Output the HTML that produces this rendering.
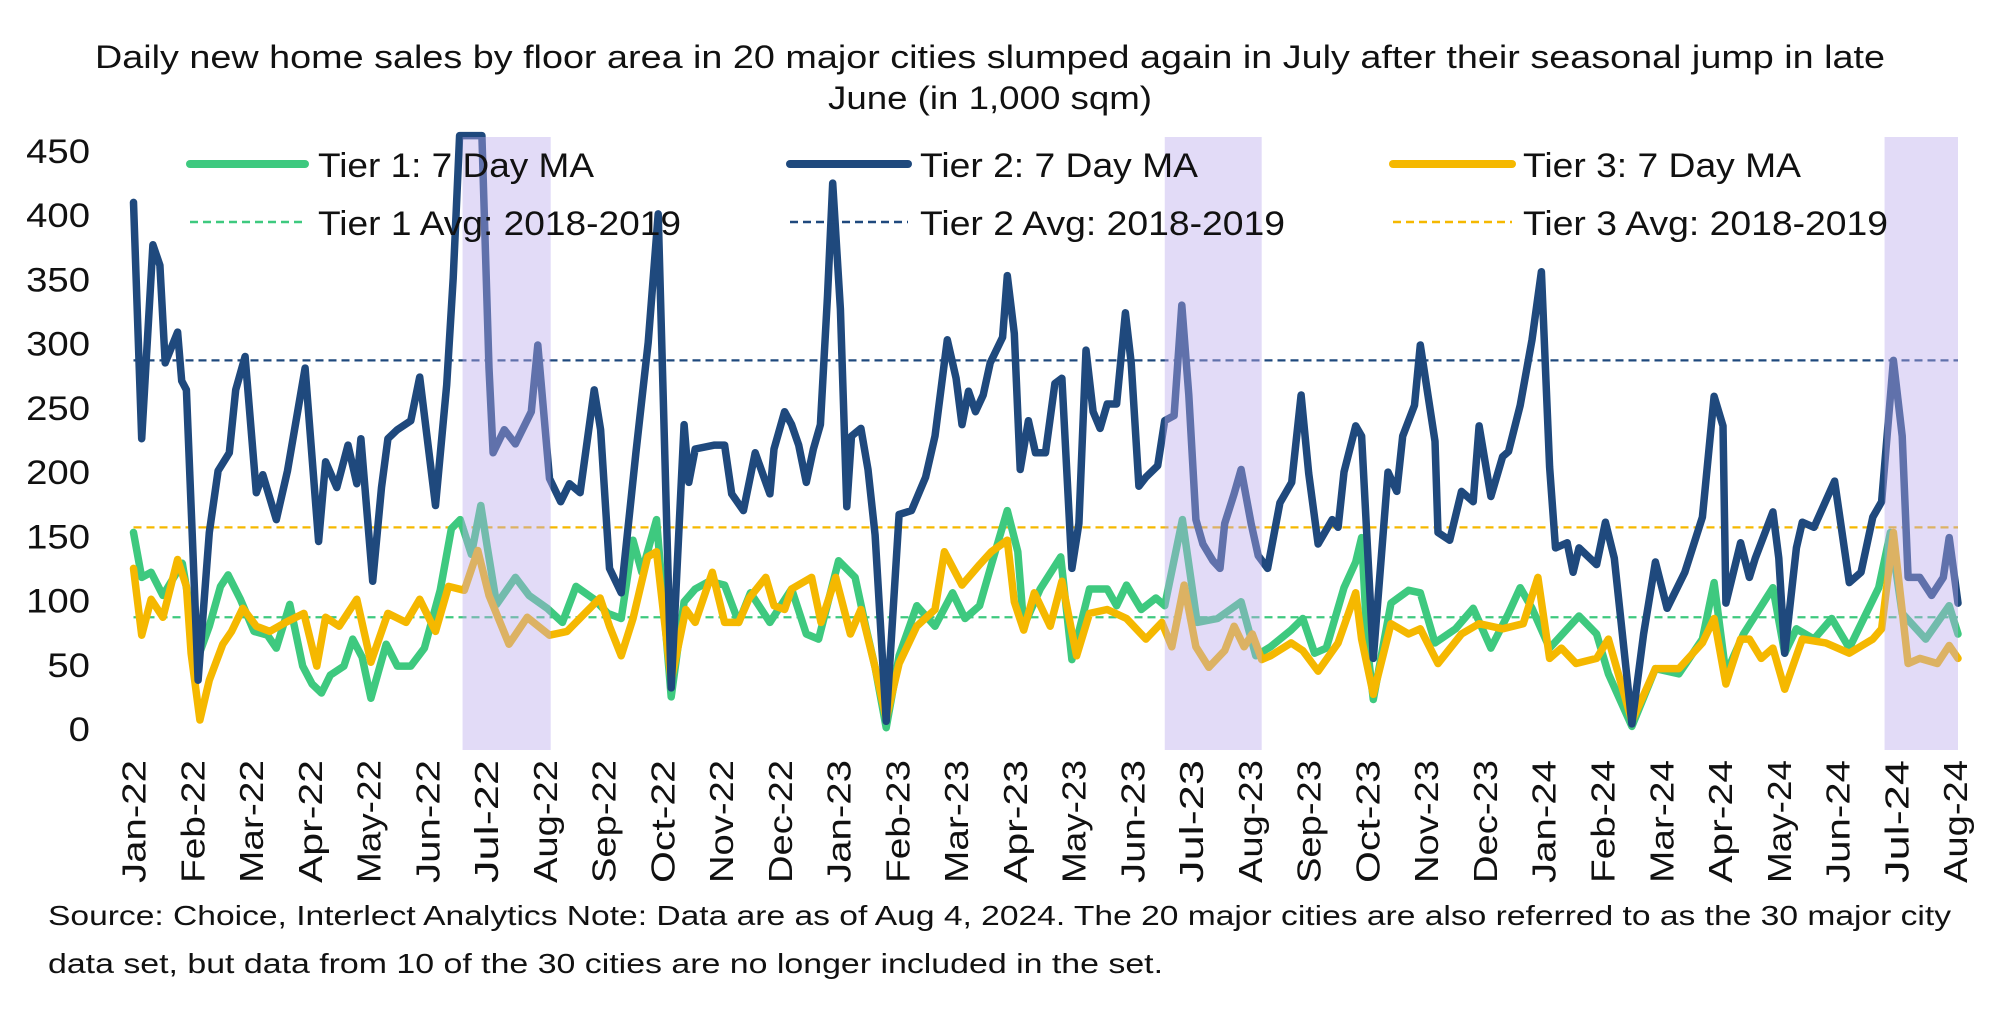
<!DOCTYPE html>
<html><head><meta charset="utf-8"><style>
html,body{margin:0;padding:0;background:#fff;}
svg{display:block;font-family:"Liberation Sans",sans-serif;}
</style></head><body>
<svg id="chart" width="1993" height="1009" viewBox="0 0 1993 1009" xmlns="http://www.w3.org/2000/svg">
<rect width="1993" height="1009" fill="#fff"/>
<g id="titleg" font-size="32" fill="#111" text-anchor="middle">
<text x="990" y="68" textLength="1790" lengthAdjust="spacingAndGlyphs">Daily new home sales by floor area in 20 major cities slumped again in July after their seasonal jump in late</text>
<text x="990" y="109" textLength="324" lengthAdjust="spacingAndGlyphs">June (in 1,000 sqm)</text>
</g>
<g id="grid"></g>
<g id="series"></g>
<g id="shade"></g>
<g id="yaxis"></g>
<g id="xaxis"></g>
<g id="legend" font-size="34" fill="#111">
<line x1="190" y1="164" x2="305" y2="164" stroke="#3ec97f" stroke-width="8" stroke-linecap="round"/>
<text x="318" y="177" textLength="276" lengthAdjust="spacingAndGlyphs">Tier 1: 7 Day MA</text>
<line x1="790" y1="164" x2="908" y2="164" stroke="#1f497d" stroke-width="8" stroke-linecap="round"/>
<text x="920" y="177" textLength="278" lengthAdjust="spacingAndGlyphs">Tier 2: 7 Day MA</text>
<line x1="1393" y1="164" x2="1512" y2="164" stroke="#f5b800" stroke-width="8" stroke-linecap="round"/>
<text x="1523" y="177" textLength="278" lengthAdjust="spacingAndGlyphs">Tier 3: 7 Day MA</text>
<line x1="190" y1="222" x2="305" y2="222" stroke="#3ec97f" stroke-width="2.5" stroke-dasharray="8 5"/>
<text x="318" y="235" textLength="363" lengthAdjust="spacingAndGlyphs">Tier 1 Avg: 2018-2019</text>
<line x1="790" y1="222" x2="908" y2="222" stroke="#1f497d" stroke-width="2.5" stroke-dasharray="8 5"/>
<text x="920" y="235" textLength="365" lengthAdjust="spacingAndGlyphs">Tier 2 Avg: 2018-2019</text>
<line x1="1393" y1="222" x2="1512" y2="222" stroke="#f5b800" stroke-width="2.5" stroke-dasharray="8 5"/>
<text x="1523" y="235" textLength="365" lengthAdjust="spacingAndGlyphs">Tier 3 Avg: 2018-2019</text>
</g>
<g id="source" font-size="28" fill="#111">
<text x="48" y="925" textLength="1903" lengthAdjust="spacingAndGlyphs">Source: Choice, Interlect Analytics   Note: Data are as of Aug 4, 2024. The 20 major cities are also referred to as the 30 major city</text>
<text x="48" y="973" textLength="1115" lengthAdjust="spacingAndGlyphs">data set, but data from 10 of the 30 cities are no longer included in the set.</text>
</g>
</svg>
<script>
const monthLabels = ["Jan-22","Feb-22","Mar-22","Apr-22","May-22","Jun-22","Jul-22","Aug-22","Sep-22","Oct-22","Nov-22","Dec-22","Jan-23","Feb-23","Mar-23","Apr-23","May-23","Jun-23","Jul-23","Aug-23","Sep-23","Oct-23","Nov-23","Dec-23","Jan-24","Feb-24","Mar-24","Apr-24","May-24","Jun-24","Jul-24","Aug-24"];
const yTicks = [0,50,100,150,200,250,300,350,400,450];
const avgValues = [87, 287, 157];
const shadeStarts = [5.6, 17.55, 29.8];
const shadeEnds = [7.1, 19.2, 31.05];

const t2Months = [0,0.14,0.33,0.45,0.54,0.75,0.82,0.9,1.1,1.29,1.44,1.63,1.74,1.9,2.09,2.2,2.43,2.62,2.92,3.15,3.27,3.46,3.65,3.8,3.87,4.07,4.22,4.33,4.49,4.72,4.87,5.14,5.33,5.44,5.55,5.93,6.05,6.12,6.31,6.5,6.77,6.88,7.08,7.27,7.42,7.6,7.84,7.95,8.1,8.3,8.55,8.76,8.93,9.15,9.37,9.45,9.56,9.89,10.06,10.18,10.38,10.58,10.83,10.9,11.08,11.2,11.32,11.45,11.57,11.69,11.81,11.9,12.03,12.14,12.22,12.38,12.5,12.62,12.81,13.03,13.24,13.48,13.64,13.85,14.0,14.1,14.21,14.33,14.46,14.58,14.79,14.87,14.99,15.09,15.23,15.35,15.52,15.68,15.8,15.97,16.09,16.21,16.33,16.45,16.57,16.73,16.88,16.98,17.11,17.23,17.43,17.55,17.71,17.84,17.96,18.08,18.2,18.37,18.49,18.57,18.73,18.85,19.02,19.14,19.3,19.51,19.71,19.87,20.0,20.16,20.4,20.5,20.6,20.8,20.9,21.1,21.35,21.5,21.6,21.8,21.9,22.15,22.2,22.4,22.6,22.8,22.9,23.1,23.3,23.4,23.6,23.8,23.96,24.1,24.2,24.4,24.5,24.6,24.9,25.05,25.2,25.5,25.7,25.9,26.1,26.4,26.7,26.9,27.05,27.1,27.35,27.5,27.6,27.9,28.0,28.1,28.3,28.4,28.6,28.95,29.2,29.4,29.6,29.75,29.95,30.1,30.2,30.4,30.6,30.8,30.9,31.05];
const t2Values = [410,226,377,361,285,309,271,264,38,153,201,215,264,290,184,198,163,201,281,146,208,188,221,191,226,115,188,226,233,240,274,174,268,351,470,470,281,215,233,222,247,299,195,177,191,184,264,233,125,106,215,301,401,32,237,192,218,221,221,183,170,215,183,218,247,237,221,192,218,237,337,425,327,173,228,234,202,151,6,167,170,196,228,303,273,237,263,247,260,285,305,353,308,202,240,215,215,269,273,125,160,295,247,234,253,253,324,285,189,196,205,240,244,330,260,163,144,131,125,160,183,202,160,135,125,176,192,260,199,144,163,157,200,236,228,55,200,185,228,252,299,224,153,147,185,177,236,181,212,216,252,303,356,204,141,145,122,141,128,161,133,4,74,130,94,122,165,259,236,98,145,118,133,169,133,59,141,161,157,193,114,122,165,177,287,228,118,118,104,118,149,98];

const t1Months = [0,0.14,0.3,0.5,0.83,1.1,1.29,1.48,1.61,1.82,2.05,2.28,2.43,2.66,2.88,3.04,3.2,3.35,3.58,3.73,3.89,4.04,4.3,4.49,4.72,4.95,5.22,5.41,5.56,5.75,5.91,6.02,6.18,6.5,6.73,7.04,7.3,7.53,7.84,8.07,8.3,8.5,8.65,8.9,9.15,9.37,9.56,9.8,10.06,10.3,10.5,10.83,11.2,11.45,11.66,12.0,12.28,12.46,12.62,12.81,13.03,13.33,13.64,13.94,14.15,14.4,14.6,14.87,15.05,15.15,15.43,15.78,15.97,16.27,16.57,16.73,16.9,17.15,17.4,17.55,17.85,18.1,18.45,18.85,19.1,19.35,19.7,19.9,20.1,20.3,20.6,20.8,20.9,21.0,21.1,21.4,21.7,21.9,22.15,22.5,22.8,23.1,23.4,23.6,23.8,24.1,24.6,24.9,25.1,25.5,25.9,26.3,26.7,26.9,27.1,27.4,27.9,28.1,28.3,28.6,28.9,29.2,29.7,29.9,30.1,30.5,30.9,31.05];
const t1Values = [153,118,122,104,129,56,80,111,120,101,76,73,63,97,49,35,28,42,49,70,56,24,66,49,49,63,108,156,163,136,174,142,97,118,104,94,83,111,101,90,86,147,122,163,25,99,109,115,112,83,106,83,109,74,70,131,118,80,48,1,57,96,80,106,86,96,128,170,138,80,109,134,54,109,109,96,112,93,102,96,163,83,86,99,57,64,77,86,59,63,110,130,149,63,23,98,108,106,67,78,94,63,90,110,94,63,88,74,43,2,47,43,70,114,43,74,110,59,78,70,86,63,110,153,90,70,96,74];

const t3Months = [0,0.14,0.3,0.5,0.75,0.9,0.98,1.13,1.29,1.52,1.67,1.86,2.09,2.32,2.59,2.9,3.12,3.27,3.5,3.8,4.04,4.33,4.64,4.87,5.14,5.36,5.63,5.86,6.05,6.39,6.7,7.08,7.38,7.68,7.94,8.1,8.3,8.5,8.75,8.9,9.15,9.4,9.56,9.85,10.06,10.3,10.48,10.76,10.9,11.08,11.2,11.54,11.7,11.95,12.2,12.38,12.62,12.81,13.03,13.33,13.64,13.8,14.1,14.4,14.6,14.87,14.99,15.15,15.33,15.6,15.8,16.05,16.27,16.57,16.9,17.23,17.5,17.67,17.88,18.08,18.3,18.57,18.73,18.9,19.04,19.2,19.35,19.7,19.9,20.16,20.5,20.8,20.9,21.1,21.4,21.7,21.9,22.2,22.6,22.9,23.3,23.65,23.9,24.1,24.3,24.55,24.9,25.1,25.5,25.9,26.3,26.7,26.9,27.1,27.35,27.5,27.7,27.9,28.1,28.4,28.8,29.2,29.6,29.75,29.95,30.2,30.4,30.7,30.9,31.05];
const t3Values = [125,73,101,87,132,111,59,7,38,66,76,94,80,76,83,90,49,87,80,101,52,90,83,101,76,111,108,139,104,66,87,73,76,90,102,80,57,86,134,138,38,93,83,122,83,83,102,118,96,93,109,118,83,118,74,93,48,8,51,80,93,138,112,128,138,147,99,77,106,80,115,57,90,93,86,70,83,64,112,64,48,61,80,64,74,54,57,67,61,45,67,106,70,27,82,74,78,51,74,82,78,82,118,55,63,51,55,70,6,47,47,67,86,35,70,70,55,63,31,70,67,59,70,78,153,51,55,51,65,55];

const X0 = 133.5, MW = 58.76, Y0 = 729, YS = 578/450;
const xOf = m => X0 + m*MW;
const yOf = v => Y0 - Math.min(v, 462)*YS;
const NS = "http://www.w3.org/2000/svg";
function mk(tag, attrs, parent){ const e=document.createElementNS(NS,tag); for(const k in attrs) e.setAttribute(k, attrs[k]); parent.appendChild(e); return e; }

const yaxis = document.getElementById('yaxis');
yTicks.forEach(v=>{
  const t = mk('text',{x:90,y:yOf(v)+12,'text-anchor':'end','font-size':34,fill:'#111',textLength:String(v).length*21.3,lengthAdjust:'spacingAndGlyphs'},yaxis);
  
  
  t.textContent = v;
});
const xaxis = document.getElementById('xaxis');
monthLabels.forEach((lab,i)=>{
  const x = xOf(i)+12, y = 760;
  const t = mk('text',{x:x,y:y,transform:`rotate(-90 ${x} ${y})`,'text-anchor':'end','font-size':33,fill:'#111',textLength:123,lengthAdjust:'spacingAndGlyphs'},xaxis);
  
  
  t.textContent = lab;
});
const grid = document.getElementById('grid');
const avgColors = ['#3ec97f','#1f497d','#f5b800'];
const avgNames = ['tier1-avg-line','tier2-avg-line','tier3-avg-line'];
avgValues.forEach((v,i)=>{
  const l = mk('line',{x1:X0,x2:xOf(31.05),y1:yOf(v),y2:yOf(v),stroke:avgColors[i],'stroke-width':2.3,'stroke-dasharray':'8 5'},grid);
  
  
});
const sg = document.getElementById('series');
function line(ms, vs, color, name){
  const pts = ms.map((m,i)=>xOf(m).toFixed(1)+','+yOf(vs[i]).toFixed(1)).join(' ');
  const p = mk('polyline',{points:pts,fill:'none',stroke:color,'stroke-width':7.5,'stroke-linejoin':'round','stroke-linecap':'round'},sg);
  
  
}
line(t1Months,t1Values,'#3ec97f','tier1-7day-ma-line');
line(t3Months,t3Values,'#f5b800','tier3-7day-ma-line');
line(t2Months,t2Values,'#1f497d','tier2-7day-ma-line');
const sh = document.getElementById('shade');
shadeStarts.forEach((s,i)=>{
  const r = mk('rect',{x:xOf(s),y:137,width:xOf(shadeEnds[i])-xOf(s),height:613,fill:'rgba(185,170,235,0.42)'},sh);
  
  
});
</script>
</body></html>
